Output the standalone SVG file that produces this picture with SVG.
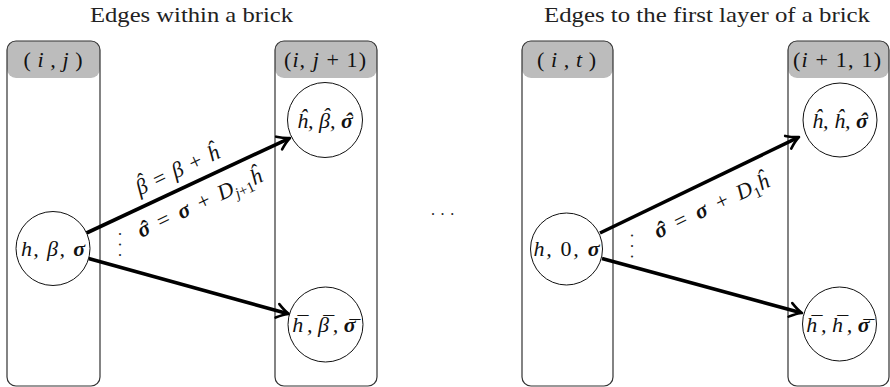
<svg xmlns="http://www.w3.org/2000/svg" width="890" height="387" viewBox="0 0 890 387">
<style>
.title{font-family:"Liberation Serif","DejaVu Serif",serif;font-size:21px;fill:#222;text-anchor:middle}
.m{font-family:"Liberation Serif","DejaVu Serif",serif;font-style:italic;font-size:22px;fill:#111;text-anchor:middle}
.up{font-style:normal}
.b{font-weight:bold}
.box{fill:none;stroke:#333;stroke-width:1.2}
.hdr{fill:#bcbcbc;stroke:none}
.node{fill:#fff;stroke:#111;stroke-width:1}
.edge{stroke:#000;stroke-width:3.6;fill:none}
.dots{font-family:"Liberation Serif",serif;font-size:16px;fill:#222}
</style>
<defs>
<marker id="arr" markerUnits="userSpaceOnUse" viewBox="-15 -9 18 18" refX="-2" refY="0" markerWidth="18" markerHeight="18" orient="auto">
<path d="M-12,-7 Q-5,-1.8 0,0 Q-5,1.8 -12,7" fill="none" stroke="#000" stroke-width="2.6" stroke-linecap="round" stroke-linejoin="round"/>
</marker>
</defs>

<text class="title" x="191.5" y="22" textLength="203" lengthAdjust="spacingAndGlyphs">Edges within a brick</text>
<text class="title" x="707" y="22" textLength="326" lengthAdjust="spacingAndGlyphs">Edges to the first layer of a brick</text>

<g id="brick-ij">
<rect class="hdr" x="7" y="41" width="93" height="37" rx="9"/>
<rect class="box" x="7" y="41" width="93" height="345" rx="9"/>
<text class="m" x="53" y="67" textLength="59"><tspan class="up">(</tspan> i , j <tspan class="up">)</tspan></text>
</g>
<g id="brick-ij1">
<rect class="hdr" x="275" y="41" width="102" height="37" rx="9"/>
<rect class="box" x="275" y="41" width="102" height="345" rx="9"/>
<text class="m" x="325" y="67" textLength="82"><tspan class="up">(</tspan>i, j <tspan class="up">+ 1)</tspan></text>
</g>
<g id="brick-it">
<rect class="hdr" x="522" y="41" width="91" height="37" rx="9"/>
<rect class="box" x="522" y="41" width="91" height="345" rx="9"/>
<text class="m" x="566.5" y="67" textLength="59"><tspan class="up">(</tspan> i , t <tspan class="up">)</tspan></text>
</g>
<g id="brick-i11">
<rect class="hdr" x="788" y="41" width="101" height="37" rx="9"/>
<rect class="box" x="788" y="41" width="101" height="345" rx="9"/>
<text class="m" x="837" y="67" textLength="88"><tspan class="up">(</tspan>i <tspan class="up">+ 1, 1)</tspan></text>
</g>

<g id="connectors">
<line class="edge" x1="86.5" y1="233" x2="288.2" y2="138.8" marker-end="url(#arr)"/>
<line class="edge" x1="88.6" y1="258.4" x2="287.1" y2="313.5" marker-end="url(#arr)"/>
<line class="edge" x1="600" y1="233" x2="797.2" y2="137.9" marker-end="url(#arr)"/>
<line class="edge" x1="602" y1="258.4" x2="800.1" y2="312.5" marker-end="url(#arr)"/>
<text class="m" transform="translate(178,171) rotate(-25)" x="0" y="6" word-spacing="2.5">β<tspan dx="-7.6" dy="-5">ˆ</tspan><tspan dx="0.3" dy="5" class="up"> = </tspan>β<tspan class="up"> + </tspan>ĥ</text>
<text class="m" transform="translate(200,204) rotate(-25)" x="0" y="6" word-spacing="4.5"><tspan class="b">σ<tspan dx="-7.9">ˆ</tspan></tspan><tspan dx="0.4" class="up"> = </tspan><tspan class="b">σ</tspan><tspan class="up"> + </tspan>D<tspan font-size="15" dy="5">j<tspan class="up">+1</tspan></tspan><tspan dy="-5">ĥ</tspan></text>
<text class="m" transform="translate(712,207) rotate(-25)" x="0" y="6" word-spacing="5"><tspan class="b">σ<tspan dx="-7.9">ˆ</tspan></tspan><tspan dx="0.4" class="up"> = </tspan><tspan class="b">σ</tspan><tspan class="up"> + </tspan>D<tspan class="up" font-size="15" dy="5">1</tspan><tspan dy="-5">ĥ</tspan></text>
<text class="dots" transform="translate(118.5,232) rotate(90)" x="0" y="0" letter-spacing="6.5">...</text>
<text class="dots" transform="translate(630.5,233.5) rotate(90)" x="0" y="0" letter-spacing="6.5">...</text>
</g>

<g id="node-left1">
<circle class="node" cx="53" cy="248.5" r="37"/>
<text class="m" x="53" y="255.5" textLength="64">h, β, <tspan class="b">σ</tspan></text>
</g>
<g id="node-top1">
<circle class="node" cx="325" cy="120" r="37.5"/>
<text class="m" x="325" y="128">ĥ, β<tspan dx="-7.6" dy="-5">ˆ</tspan><tspan dx="0.3" dy="5">, </tspan><tspan class="b">σ<tspan dx="-7.9">ˆ</tspan></tspan></text>
</g>
<g id="node-bot1">
<circle class="node" cx="325.5" cy="324.5" r="37.5"/>
<text class="m" x="325.5" y="332">h<tspan dx="-7.6" dy="-1">¯</tspan><tspan dx="0.3" dy="1">, β</tspan><tspan dx="-7.6" dy="-1">¯</tspan><tspan dx="0.3" dy="1">, </tspan><tspan class="b">σ<tspan dx="-7.9" dy="3">¯</tspan></tspan></text>
</g>
<g id="node-left2">
<circle class="node" cx="566.5" cy="249" r="36"/>
<text class="m" x="566.5" y="256" textLength="66">h, <tspan class="up">0</tspan>, <tspan class="b">σ</tspan></text>
</g>
<g id="node-top2">
<circle class="node" cx="840" cy="120" r="37"/>
<text class="m" x="840" y="128">ĥ, ĥ, <tspan class="b">σ<tspan dx="-7.9">ˆ</tspan></tspan></text>
</g>
<g id="node-bot2">
<circle class="node" cx="839.5" cy="324" r="37"/>
<text class="m" x="839.5" y="332">h<tspan dx="-7.6" dy="-1">¯</tspan><tspan dx="0.3" dy="1">, h</tspan><tspan dx="-7.6" dy="-1">¯</tspan><tspan dx="0.3" dy="1">, </tspan><tspan class="b">σ<tspan dx="-7.9" dy="3">¯</tspan></tspan></text>
</g>

<text class="dots" x="431" y="215" letter-spacing="5.6">...</text>
</svg>
